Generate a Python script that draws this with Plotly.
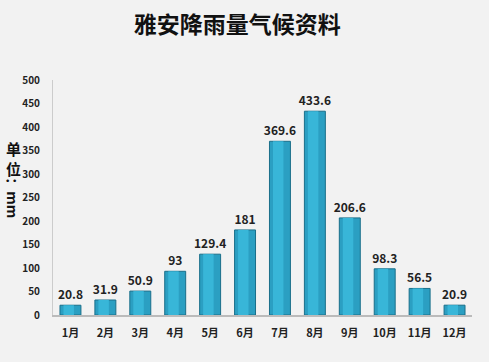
import plotly.graph_objects as go

months = ["1月", "2月", "3月", "4月", "5月", "6月", "7月", "8月", "9月", "10月", "11月", "12月"]
rain = [20.8, 31.9, 50.9, 93, 129.4, 181, 369.6, 433.6, 206.6, 98.3, 56.5, 20.9]
labels = ["20.8", "31.9", "50.9", "93", "129.4", "181", "369.6", "433.6", "206.6", "98.3", "56.5", "20.9"]
yticks = [0, 50, 100, 150, 200, 250, 300, 350, 400, 450, 500]

FONT = "Noto Sans CJK SC, Liberation Sans, sans-serif"

fig = go.Figure()
fig.add_trace(go.Bar(
    x=months, y=rain, width=0.6,
    marker=dict(color="#2b9fc2", line=dict(color="#1a6f8a", width=1)),
    text=labels, textposition="outside", cliponaxis=False, constraintext="none",
    textfont=dict(family=FONT, size=12, color="#222222", weight="bold"),
    hoverinfo="skip",
))
# lighter highlight strip to suggest shading
fig.add_trace(go.Bar(
    x=months, y=rain, width=0.3, offset=-0.2,
    marker=dict(color="#38b6d8", line=dict(width=0)),
    hoverinfo="skip",
))
fig.update_layout(
    barmode="overlay",
    width=489, height=362,
    paper_bgcolor="#f2f2f2", plot_bgcolor="#f2f2f2",
    margin=dict(l=53, r=17, t=80, b=47),
    showlegend=False,
    title=dict(text="雅安降雨量气候资料", x=0.485, xanchor="center", y=0.93, yanchor="middle",
               font=dict(family=FONT, size=23, color="#111111", weight="bold")),
    xaxis=dict(showline=True, linecolor="#bbbbbb", linewidth=2, ticks="",
               tickfont=dict(family=FONT, size=11, color="#222222", weight="bold"),
               ticklabelstandoff=7),
    yaxis=dict(range=[0, 500], tickvals=yticks, showgrid=False, zeroline=False,
               showline=True, linecolor="#cccccc", linewidth=1, ticks="",
               tickfont=dict(family=FONT, size=10, color="#222222", weight="bold"),
               ticklabelstandoff=10),
)
fig.add_annotation(text="单<br>位", xref="paper", yref="paper", x=-0.095, y=0.664,
                   xanchor="center", yanchor="middle", showarrow=False,
                   font=dict(family=FONT, size=15, color="#111111", weight="bold"))
fig.add_annotation(text="：mm", xref="paper", yref="paper", x=-0.095, y=0.5, textangle=90,
                   xanchor="center", yanchor="middle", showarrow=False,
                   font=dict(family=FONT, size=14, color="#111111", weight="bold"))
fig.write_html("out.html", config={"displayModeBar": False},
               post_script="document.body.style.margin='0';")
